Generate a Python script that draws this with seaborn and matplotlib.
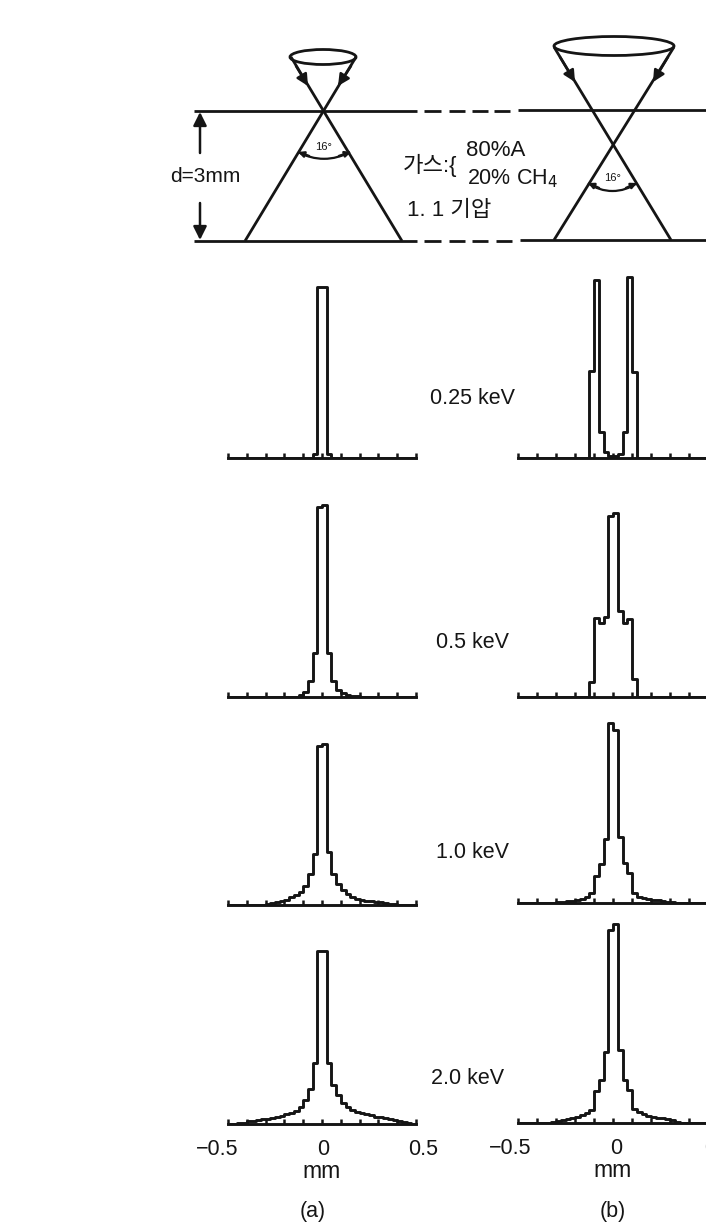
import numpy as np
import seaborn as sns
import matplotlib.pyplot as plt
from matplotlib.patches import Ellipse, Arc
from matplotlib.transforms import ScaledTranslation

FIG_W, FIG_H = 706, 1230
INK = '#151515'

energies = ['0.25 keV', '0.5 keV', '1.0 keV', '2.0 keV']

# bin heights, 0.025 mm bins from -0.5 to 0.5
a_025 = [0]*18 + [4, 171, 171, 4] + [0]*18
a_05 = [0]*15 + [2, 5, 16, 44, 190, 192, 44, 16, 7, 4, 2, 1.5, 1] + [0]*12
a_10 = [0]*8 + [1, 2, 3, 4, 5, 8, 10, 13, 19, 31, 51, 159, 161, 53, 31, 21, 15, 11, 8, 6, 5, 4.5, 4, 3.5, 3, 2, 1.5, 1] + [0]*4
a_20 = [0, 0, 1, 1.5, 3, 3.5, 4, 5, 5.5, 6, 7.5, 8, 10, 11, 13, 17, 24, 35, 61, 173, 173, 61, 39, 29, 21, 17, 14, 12, 11, 10, 9, 7.5, 7, 6, 5.5, 4, 3.5, 2.5, 1, 0]
b_025 = [0]*15 + [87, 178, 26, 6, 2, 2, 4, 26, 181, 86] + [0]*15
b_05 = [0]*15 + [15, 79, 74, 80, 181, 184, 86, 74, 78, 18] + [0]*15
b_10 = [0]*8 + [1, 1.5, 2, 2.5, 3, 4, 6, 10, 27, 39, 64, 180, 173, 66, 40, 30, 10, 6, 5, 4, 3, 3, 2, 1.5, 1] + [0]*7
b_20 = [0]*7 + [1, 2, 3, 4, 5, 6, 8, 10, 13, 32, 43, 71, 193, 199, 73, 43, 33, 14, 11, 9, 7, 6, 5, 5, 4, 3, 1.5] + [0]*6

panel_a = [a_025, a_05, a_10, a_20]
panel_b = [b_025, b_05, b_10, b_20]
baselines_a = [458, 697, 905, 1124]
baselines_b = [458, 697, 903, 1123]

bin_edges = list(np.linspace(-0.5, 0.5, 41))
bin_centers = np.linspace(-0.4875, 0.4875, 40)
tick_pos = np.linspace(-0.5, 0.5, 11)

sns.set_theme(style='white')
plt.rcParams['font.family'] = ['Liberation Sans', 'Noto Sans CJK KR']

fig = plt.figure(figsize=(FIG_W / 100, FIG_H / 100), dpi=100)
fig.patch.set_facecolor('white')


def add_hist(vals, left, right, base, show_labels, shifts):
    h = 215
    ax = fig.add_axes([left / FIG_W, 1 - base / FIG_H, (right - left) / FIG_W, h / FIG_H])
    ax.patch.set_alpha(0)
    sns.histplot(x=bin_centers, weights=vals, bins=bin_edges, element='step', fill=False,
                 color=INK, linewidth=2.1, ax=ax)
    ax.set_xlim(-0.5, 0.5)
    ax.set_ylim(0, h)
    ax.set_ylabel('')
    ax.set_yticks([])
    sns.despine(ax=ax, left=True, top=True, right=True)
    ax.spines['bottom'].set_linewidth(2.1)
    ax.spines['bottom'].set_color(INK)
    ax.set_xticks(tick_pos)
    ax.tick_params(axis='x', direction='in', length=3.8, width=1.8, color=INK, bottom=True,
                   labelbottom=False, pad=11)
    if show_labels:
        ax.set_xticks([-0.5, 0, 0.5], labels=['\u22120.5', '0', '0.5'])
        ax.set_xticks(tick_pos, minor=True)
        ax.tick_params(axis='x', which='both', direction='in', length=3.8, width=1.8, color=INK,
                       bottom=True)
        ax.tick_params(axis='x', which='major', labelbottom=True, labelsize=15.5, labelcolor=INK)
        for lab, dx in zip(ax.get_xticklabels(), shifts):
            lab.set_transform(lab.get_transform() + ScaledTranslation(dx / 100, 0, fig.dpi_scale_trans))
        ax.set_xlabel('mm', fontsize=16.5, color=INK, labelpad=0)
    else:
        ax.set_xlabel('')
    return ax


for i in range(4):
    last = i == 3
    add_hist(panel_a[i], 228, 416, baselines_a[i], last, [-11, 1, 7])
    add_hist(panel_b[i], 518, 708, baselines_b[i], last, [-8, 3, 11])

# schematic and free text, drawn in image pixels
over = fig.add_axes([0, 0, 1, 1])
over.set_xlim(0, FIG_W)
over.set_ylim(FIG_H, 0)
over.axis('off')
over.patch.set_alpha(0)


def stroke(xs, ys, lw=2.0):
    over.plot(xs, ys, color=INK, lw=lw, solid_capstyle='butt')


def arrow(x0, y0, x1, y1, ms=17):
    over.annotate('', xy=(x1, y1), xytext=(x0, y0),
                  arrowprops=dict(arrowstyle='-|>', color=INK, lw=1.8, mutation_scale=ms, shrinkA=0, shrinkB=0))


# gas cell limits
stroke([194, 417], [111, 111])
stroke([424, 441], [111, 111])
stroke([449, 465], [111, 111])
stroke([472, 488], [111, 111])
stroke([494, 510], [111, 111])
stroke([518, 706], [110, 110])
stroke([194, 417], [241, 241])
stroke([424, 441], [241, 241])
stroke([449, 465], [241, 241])
stroke([472, 488], [241, 241])
stroke([496, 512], [241, 241])
stroke([520, 706], [240, 240])

# cone (a)
over.add_patch(Ellipse((323, 57), 66, 15, fill=False, ec=INK, lw=2.0))
stroke([291, 402], [57, 241])
stroke([356, 245], [57, 241])
arrow(296, 66, 308, 86)
arrow(351, 66, 338, 86)
over.add_patch(Arc((324, 107), 103.6, 103.6, theta1=60, theta2=120, ec=INK, lw=1.6))
arrow(309, 156, 298, 152, ms=8)
arrow(339, 156, 351, 152, ms=8)
over.text(324, 147, '16°', fontsize=8, ha='center', va='center', color=INK)

# cone (b)
over.add_patch(Ellipse((614, 46), 120, 19, fill=False, ec=INK, lw=2.0))
stroke([554, 671], [47, 240])
stroke([674, 554], [47, 240])
arrow(560, 57, 575, 82)
arrow(668, 57, 653, 82)
over.add_patch(Arc((612.5, 149.5), 83, 83, theta1=54, theta2=126, ec=INK, lw=1.6))
arrow(599, 188, 588, 183, ms=8)
arrow(626, 188, 637, 183, ms=8)
over.text(613, 178, '16°', fontsize=8, ha='center', va='center', color=INK)

# depth arrows
arrow(200, 153, 200, 112, ms=20)
arrow(200, 203, 200, 240, ms=20)
over.text(205, 177, 'd=3mm', fontsize=15, ha='center', va='center', color=INK)

over.text(403, 165, '가스:{', fontsize=16, ha='left', va='center', color=INK)
over.text(466, 150, '80%A', fontsize=16, ha='left', va='center', color=INK)
over.text(467, 179, '20% CH$_4$', fontsize=15.5, ha='left', va='center', color=INK)
over.text(407, 210, '1. 1 기압', fontsize=16, ha='left', va='center', color=INK)

label_x = [472, 472, 472, 468]
label_y = [398, 643, 852, 1079]
for name, x, y in zip(energies, label_x, label_y):
    over.text(x, y, name, fontsize=15.5, ha='center', va='center', color=INK)

over.text(313, 1212, '(a)', fontsize=15.5, ha='center', va='center', color=INK)
over.text(613, 1212, '(b)', fontsize=15.5, ha='center', va='center', color=INK)

fig.savefig('out.png', dpi=100, facecolor='white')
